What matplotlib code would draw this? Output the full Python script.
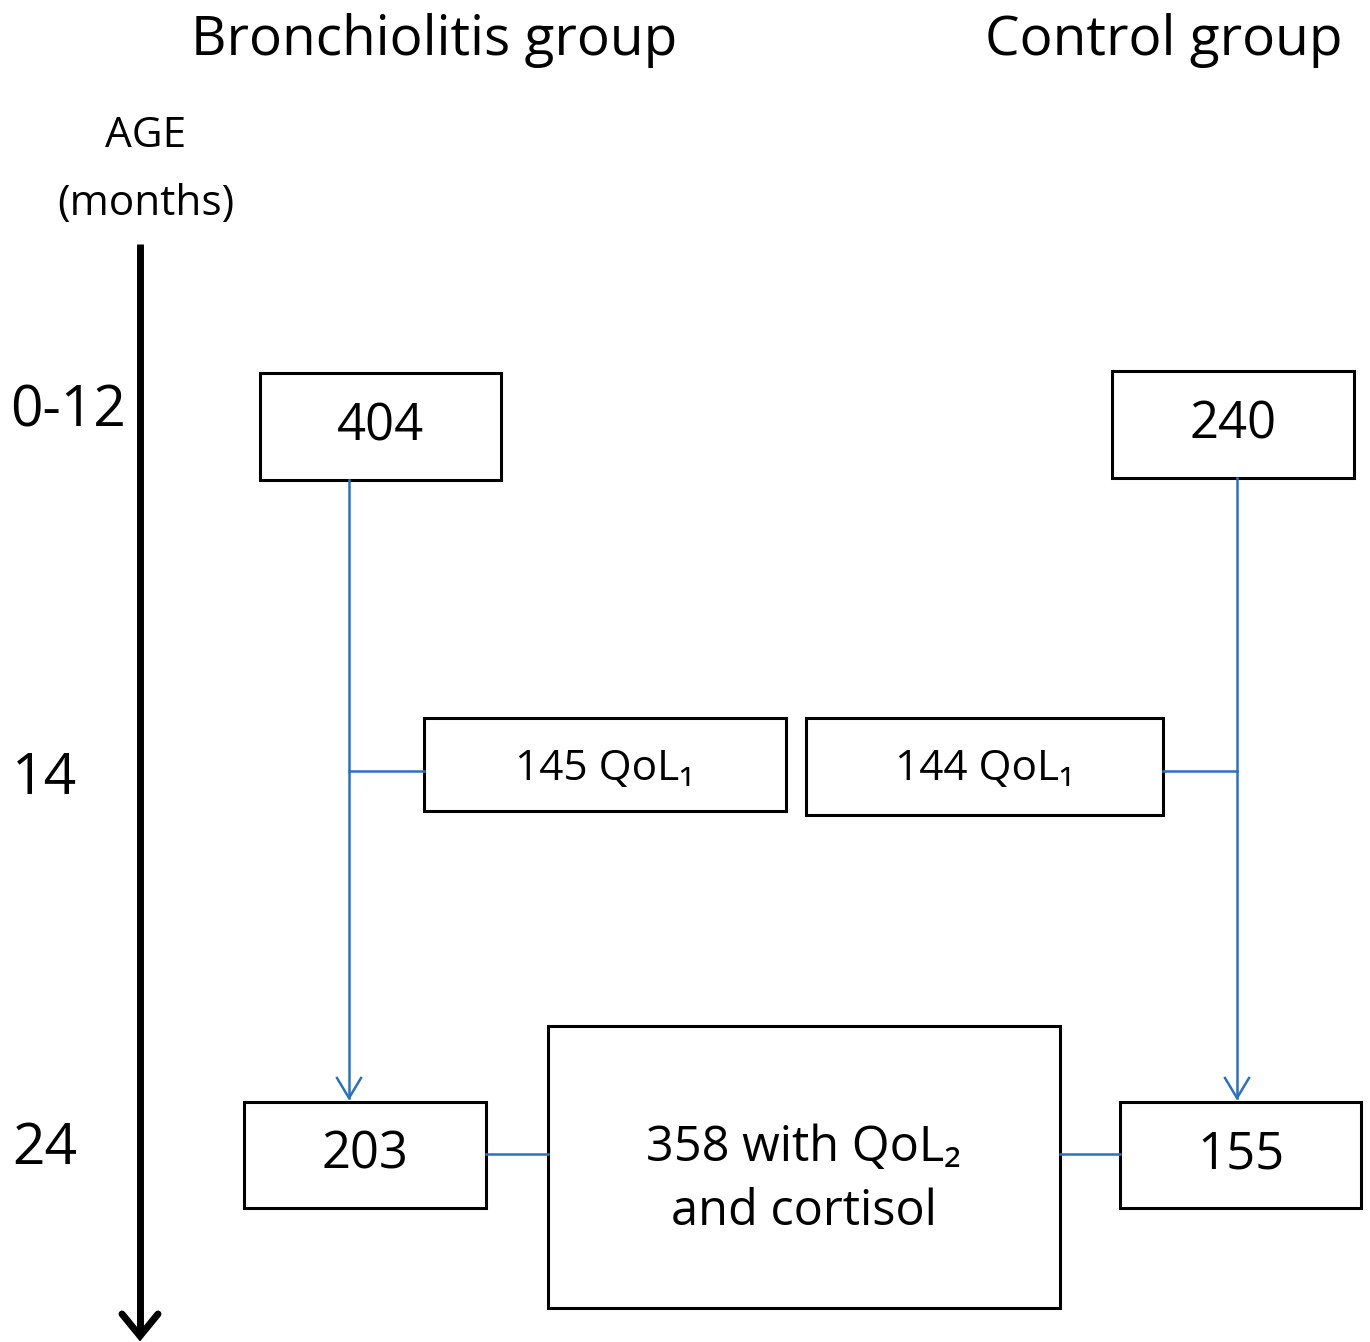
import matplotlib
matplotlib.use("Agg")
import matplotlib.pyplot as plt
from matplotlib.patches import Rectangle

plt.rcParams['font.family'] = ['Open Sans', 'DejaVu Sans']

# ---- data ----
group_titles = ["Bronchiolitis group", "Control group"]
age_axis_title = ["AGE", "(months)"]
age_labels = ["0-12", "14", "24"]
bronch_counts = ["404", "145 QoL\u2081", "203"]
control_counts = ["240", "144 QoL\u2081", "155"]
combined_label = "358 with QoL\u2082\nand cortisol"

W, H = 1370, 1342
fig = plt.figure(figsize=(W / 100, H / 100), dpi=100)
ax = fig.add_axes([0, 0, 1, 1])
ax.set_xlim(0, W)
ax.set_ylim(H, 0)
ax.axis('off')

BLUE = '#2f6fc0'

def box(x0, y0, x1, y1, text, size, ls=1.0, ty=None):
    ax.add_patch(Rectangle((x0, y0), x1 - x0, y1 - y0, fill=False,
                           edgecolor='black', linewidth=2.2))
    ax.text((x0 + x1) / 2, (y0 + y1) / 2 if ty is None else ty, text,
            ha='center', va='center', fontsize=size, color='black', linespacing=ls)

# titles
ax.text(434, 41, group_titles[0], ha='center', va='center', fontsize=39.5)
ax.text(1164, 41, group_titles[1], ha='center', va='center', fontsize=39.5)
ax.text(146, 136, age_axis_title[0], ha='center', va='center', fontsize=30.5)
ax.text(146, 204, age_axis_title[1], ha='center', va='center', fontsize=30.5)

# age labels
ax.text(10, 412, age_labels[0], ha='left', va='center', fontsize=41)
ax.text(12, 780, age_labels[1], ha='left', va='center', fontsize=41)
ax.text(12, 1150, age_labels[2], ha='left', va='center', fontsize=41)

# black time arrow
ax.plot([140, 140], [244, 1332], color='black', linewidth=5, solid_capstyle='butt')
ax.plot([122, 140, 158], [1314, 1336, 1314], color='black', linewidth=5,
        solid_capstyle='round', solid_joinstyle='miter')

# boxes
box(260, 373, 501, 480, bronch_counts[0], 36.5, ty=427)
box(1112, 371, 1354, 478, control_counts[0], 36.5, ty=425)
box(424, 718, 786, 811, bronch_counts[1], 30.5, ty=769)
box(806, 718, 1163, 815, control_counts[1], 30.5, ty=769)
box(244, 1102, 486, 1208, bronch_counts[2], 36.5, ty=1155)
box(1120, 1102, 1361, 1208, control_counts[2], 36.5, ty=1155)
box(548, 1026, 1060, 1308, combined_label, 35, ls=1.38, ty=1180)

# blue connectors
lw = 1.8
ax.plot([349, 349], [480, 1098], color=BLUE, linewidth=lw)
ax.plot([337, 349, 361], [1078, 1098, 1078], color=BLUE, linewidth=lw)
ax.plot([349, 424], [771, 771], color=BLUE, linewidth=lw)
ax.plot([1237, 1237], [478, 1098], color=BLUE, linewidth=lw)
ax.plot([1225, 1237, 1249], [1078, 1098, 1078], color=BLUE, linewidth=lw)
ax.plot([1163, 1237], [771, 771], color=BLUE, linewidth=lw)
ax.plot([486, 548], [1154, 1154], color=BLUE, linewidth=lw)
ax.plot([1060, 1120], [1154, 1154], color=BLUE, linewidth=lw)

fig.savefig('out.png', dpi=100, facecolor='white')
